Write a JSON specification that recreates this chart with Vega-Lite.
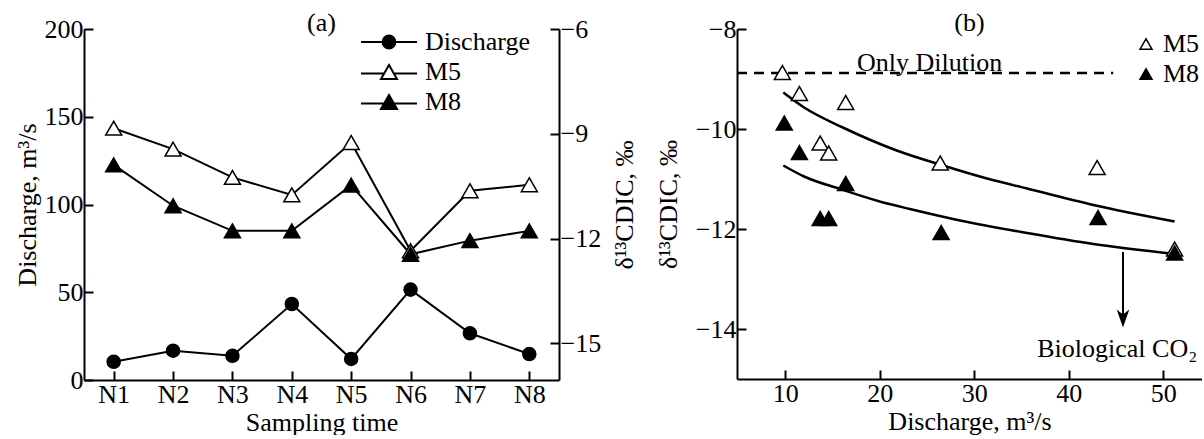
{
  "$schema": "https://vega.github.io/schema/vega-lite/v6.json",
  "padding": {"left": 14, "top": 10, "right": 0, "bottom": 0},
  "spacing": 17,
  "resolve": {"scale": {"shape": "independent", "fill": "independent"}, "legend": {"shape": "independent", "fill": "independent"}},
  "config": {
    "font": "Liberation Serif",
    "view": {"stroke": null},
    "axis": {"labelFont": "Liberation Serif", "titleFont": "Liberation Serif", "labelFontSize": 26, "titleFontSize": 26, "titleFontWeight": "normal", "labelColor": "black", "titleColor": "black", "domainColor": "black", "domainWidth": 2, "tickColor": "black", "tickWidth": 2, "tickSize": -9, "grid": false, "labelPadding": 10, "titlePadding": 4},
    "legend": {"labelFont": "Liberation Serif", "labelFontSize": 26, "labelColor": "black", "padding": 0, "rowPadding": 4},
    "title": {"font": "Liberation Serif", "fontSize": 26, "fontWeight": "normal", "color": "black"}
  },
  "hconcat": [
    {
      "width": 475,
      "height": 351,
      "title": {"text": "(a)", "offset": -20},
      "data": {"values": [
        {"t": "N1", "series": "Discharge", "value": 10.4},
        {"t": "N2", "series": "Discharge", "value": 16.7},
        {"t": "N3", "series": "Discharge", "value": 13.8},
        {"t": "N4", "series": "Discharge", "value": 43.3},
        {"t": "N5", "series": "Discharge", "value": 12.0},
        {"t": "N6", "series": "Discharge", "value": 51.5},
        {"t": "N7", "series": "Discharge", "value": 26.6},
        {"t": "N8", "series": "Discharge", "value": 14.8},
        {"t": "N1", "series": "M5", "value": -8.84},
        {"t": "N2", "series": "M5", "value": -9.44},
        {"t": "N3", "series": "M5", "value": -10.25},
        {"t": "N4", "series": "M5", "value": -10.75},
        {"t": "N5", "series": "M5", "value": -9.25},
        {"t": "N6", "series": "M5", "value": -12.35},
        {"t": "N7", "series": "M5", "value": -10.63},
        {"t": "N8", "series": "M5", "value": -10.46},
        {"t": "N1", "series": "M8", "value": -9.89},
        {"t": "N2", "series": "M8", "value": -11.06},
        {"t": "N3", "series": "M8", "value": -11.78},
        {"t": "N4", "series": "M8", "value": -11.78},
        {"t": "N5", "series": "M8", "value": -10.47},
        {"t": "N6", "series": "M8", "value": -12.45},
        {"t": "N7", "series": "M8", "value": -12.06},
        {"t": "N8", "series": "M8", "value": -11.78}
      ]},
      "layer": [
        {
          "transform": [{"filter": "datum.series == 'Discharge'"}],
          "encoding": {
            "x": {"field": "t", "type": "ordinal", "scale": {"type": "point", "padding": 0.5}, "axis": {"title": "Sampling time", "labelAngle": 0, "titlePadding": 2}},
            "y": {"field": "value", "type": "quantitative", "scale": {"domain": [0, 200], "nice": false}, "axis": {"title": "Discharge, m³/s", "values": [0, 50, 100, 150, 200]}}
          },
          "layer": [
            {"mark": {"type": "line", "color": "black", "strokeWidth": 2}},
            {"mark": {"type": "point", "filled": true, "stroke": "black", "strokeWidth": 1.5, "size": 170, "opacity": 1, "shape": "circle"},
             "encoding": {
               "fill": {"field": "series", "type": "nominal", "scale": {"domain": ["Discharge"], "range": ["black"]},
                 "legend": {"title": null, "orient": "none", "legendX": 292, "legendY": 0, "symbolSize": 256, "labelOffset": 23, "symbolStrokeWidth": 2, "symbolStrokeColor": "black",
                   "symbolType": "M-3.5,0H-0.8M0.8,0H3.5M-0.8,0A0.8,0.8 0 1,1 0.8,0A0.8,0.8 0 1,1 -0.8,0Z"}}
             }}
          ]
        },
        {
          "transform": [{"filter": "datum.series != 'Discharge'"}],
          "encoding": {
            "x": {"field": "t", "type": "ordinal", "scale": {"type": "point", "padding": 0.5}, "axis": {"title": "Sampling time", "labelAngle": 0, "titlePadding": 2}},
            "y": {"field": "value", "type": "quantitative", "scale": {"domain": [-16.05, -6], "nice": false}, "axis": {"orient": "right", "title": "δ¹³CDIC, ‰", "titleAngle": -90, "titlePadding": 37, "values": [-6, -9, -12, -15]}}
          },
          "layer": [
            {"mark": {"type": "line", "color": "black", "strokeWidth": 2}, "encoding": {"detail": {"field": "series"}}},
            {"mark": {"type": "point", "filled": true, "stroke": "black", "strokeWidth": 1.5, "size": 256, "opacity": 1, "shape": "triangle-up"},
             "encoding": {
               "fill": {"field": "series", "type": "nominal", "scale": {"domain": ["M5", "M8"], "range": ["white", "black"]},
                 "legend": {"title": null, "orient": "none", "legendX": 292, "legendY": 30, "symbolSize": 256, "labelOffset": 23, "symbolStrokeWidth": 2, "symbolStrokeColor": "black",
                   "symbolType": "M-3.5,0.2H-0.62M0.62,0.2H3.5M0,-0.87L1,0.87L-1,0.87Z"}}
             }}
          ]
        }
      ],
      "resolve": {"scale": {"y": "independent", "fill": "independent"}, "legend": {"fill": "independent"}}
    },
    {
      "width": 465,
      "height": 350,
      "title": {"text": "(b)", "offset": -20},
      "encoding": {
        "x": {"field": "q", "type": "quantitative", "scale": {"domain": [4.9, 54.1], "nice": false}, "axis": {"title": "Discharge, m³/s", "values": [10, 20, 30, 40, 50], "titlePadding": 2}},
        "y": {"field": "v", "type": "quantitative", "scale": {"domain": [-15, -8], "nice": false}, "axis": {"title": "δ¹³CDIC, ‰", "values": [-8, -10, -12, -14], "titlePadding": 14}}
      },
      "layer": [
        {
          "data": {"values": [{"q": 4.9, "v": -8.88}, {"q": 44.7, "v": -8.88}]},
          "mark": {"type": "line", "color": "black", "strokeWidth": 2.5, "strokeDash": [10, 7]}
        },
        {
          "data": {"values": [
            {"curve": "upper", "q": 9.8, "v": -9.27},
            {"curve": "upper", "q": 12.0, "v": -9.57},
            {"curve": "upper", "q": 16.1, "v": -9.97},
            {"curve": "upper", "q": 21.8, "v": -10.43},
            {"curve": "upper", "q": 26.7, "v": -10.73},
            {"curve": "upper", "q": 30.6, "v": -10.95},
            {"curve": "upper", "q": 35.6, "v": -11.19},
            {"curve": "upper", "q": 42.6, "v": -11.52},
            {"curve": "upper", "q": 51.2, "v": -11.85},
            {"curve": "lower", "q": 9.8, "v": -10.73},
            {"curve": "lower", "q": 12.0, "v": -10.95},
            {"curve": "lower", "q": 15.8, "v": -11.2},
            {"curve": "lower", "q": 20.0, "v": -11.45},
            {"curve": "lower", "q": 23.2, "v": -11.6},
            {"curve": "lower", "q": 28.5, "v": -11.83},
            {"curve": "lower", "q": 35.6, "v": -12.08},
            {"curve": "lower", "q": 42.6, "v": -12.3},
            {"curve": "lower", "q": 51.2, "v": -12.5}
          ]},
          "mark": {"type": "line", "color": "black", "strokeWidth": 2.5, "interpolate": "monotone"},
          "encoding": {"detail": {"field": "curve"}}
        },
        {
          "data": {"values": [
            {"series": "M5", "q": 9.7, "v": -8.87},
            {"series": "M5", "q": 11.5, "v": -9.29},
            {"series": "M5", "q": 16.4, "v": -9.47},
            {"series": "M5", "q": 13.7, "v": -10.28},
            {"series": "M5", "q": 14.6, "v": -10.48},
            {"series": "M5", "q": 26.4, "v": -10.68},
            {"series": "M5", "q": 43.0, "v": -10.77},
            {"series": "M5", "q": 51.2, "v": -12.4},
            {"series": "M8", "q": 9.9, "v": -9.88},
            {"series": "M8", "q": 11.5, "v": -10.47},
            {"series": "M8", "q": 16.4, "v": -11.09},
            {"series": "M8", "q": 13.7, "v": -11.79},
            {"series": "M8", "q": 14.6, "v": -11.79},
            {"series": "M8", "q": 26.5, "v": -12.07},
            {"series": "M8", "q": 43.1, "v": -11.77},
            {"series": "M8", "q": 51.2, "v": -12.48}
          ]},
          "mark": {"type": "point", "filled": true, "stroke": "black", "strokeWidth": 1.5, "size": 256, "opacity": 1, "shape": "triangle-up"},
          "encoding": {
            "fill": {"field": "series", "type": "nominal", "scale": {"domain": ["M5", "M8"], "range": ["white", "black"]},
              "legend": {"title": null, "orient": "none", "legendX": 396, "legendY": 2, "symbolSize": 144, "labelOffset": 4, "symbolType": "triangle-up", "symbolStrokeColor": "black", "symbolStrokeWidth": 1.5}}
          }
        },
        {
          "data": {"values": [{"q": 45.74, "v": -12.46, "v2": -13.75}]},
          "mark": {"type": "rule", "color": "black", "strokeWidth": 2},
          "encoding": {"y2": {"field": "v2"}}
        },
        {
          "data": {"values": [{"q": 45.74, "v": -13.79}]},
          "mark": {"type": "point", "filled": true, "color": "black", "opacity": 1, "size": 324, "shape": "M0,1L-0.7,-1L0,-0.45L0.7,-1Z"}
        },
        {
          "data": {"values": [{"q": 17.6, "v": -8.83, "label": "Only Dilution"}]},
          "mark": {"type": "text", "align": "left", "baseline": "alphabetic", "font": "Liberation Serif", "fontSize": 26, "color": "black"},
          "encoding": {"text": {"field": "label"}}
        },
        {
          "data": {"values": [{"q": 53.6, "v": -14.56, "label": "Biological CO₂"}]},
          "mark": {"type": "text", "align": "right", "baseline": "alphabetic", "font": "Liberation Serif", "fontSize": 26, "color": "black"},
          "encoding": {"text": {"field": "label"}}
        }
      ]
    }
  ]
}
